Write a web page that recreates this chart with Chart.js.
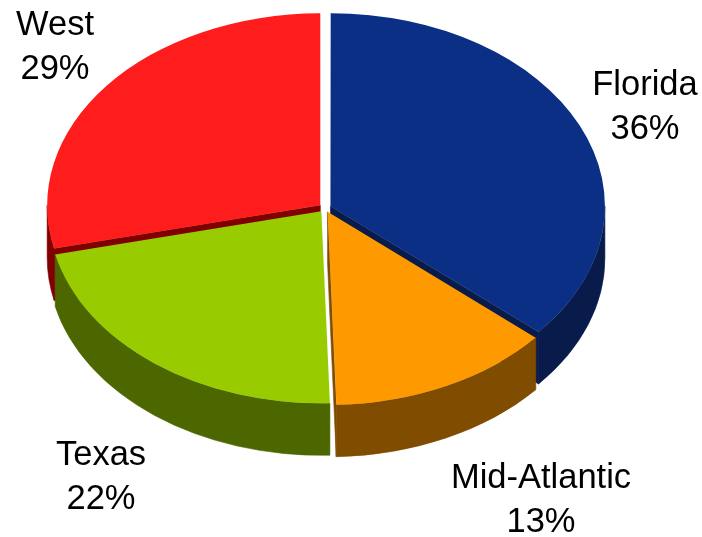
<!DOCTYPE html>
<html>
<head>
<meta charset="utf-8">
<title>Share by region</title>
<script src="https://cdn.jsdelivr.net/npm/chart.js@4.4.1/dist/chart.umd.min.js"></script>
<style>
  html, body { margin: 0; padding: 0; background: #fff; }
  #chart { display: block; }
</style>
</head>
<body>
<canvas id="chart" width="702" height="537"></canvas>
<script>
// data (labels show the rounded shares)
const regions = ['Florida', 'Mid-Atlantic', 'Texas', 'West'];
const shares = [36.3, 13.2, 21.9, 28.6];

const topColors = ['#0A2F85', '#FF9900', '#99CC00', '#FF1C1C'];
const sideColors = ['#081B4A', '#7F4C00', '#4C6600', '#800000'];

function sliceGeom(arc, tilt, color) {
    // same shift the arc element applies for its offset
    const off = (arc.options.offset || 0) / 4;
    const mid = (arc.startAngle + arc.endAngle) / 2;
    const circ = arc.endAngle - arc.startAngle;
    const fix = 1 - Math.sin(Math.min(Math.PI, circ));
    const r = arc.outerRadius + off * fix;
    return {
        x: arc.x + Math.cos(mid) * off,
        y: arc.y + Math.sin(mid) * off * tilt,
        rx: r,
        ry: r * tilt,
        start: arc.startAngle,
        end: arc.endAngle,
        color: color
    };
}

function cutFace(ctx, p, a, depth) {
    const ex = p.x + p.rx * Math.cos(a);
    const ey = p.y + p.ry * Math.sin(a);
    ctx.beginPath();
    ctx.moveTo(p.x, p.y);
    ctx.lineTo(ex, ey);
    ctx.lineTo(ex, ey + depth);
    ctx.lineTo(p.x, p.y + depth);
    ctx.closePath();
    ctx.fillStyle = p.color;
    ctx.strokeStyle = p.color;
    ctx.lineWidth = 0.6;
    ctx.fill();
    ctx.stroke();
}

function rimWall(ctx, p, depth) {
    // only the front half of the rim faces the viewer
    [-2 * Math.PI, 0, 2 * Math.PI].forEach(base => {
        const lo = Math.max(p.start, base);
        const hi = Math.min(p.end, base + Math.PI);
        if (hi <= lo) return;
        ctx.beginPath();
        ctx.ellipse(p.x, p.y, p.rx, p.ry, 0, lo, hi);
        ctx.lineTo(p.x + p.rx * Math.cos(hi), p.y + p.ry * Math.sin(hi) + depth);
        ctx.ellipse(p.x, p.y + depth, p.rx, p.ry, 0, hi, lo, true);
        ctx.closePath();
        ctx.fillStyle = p.color;
        ctx.strokeStyle = p.color;
        ctx.lineWidth = 0.6;
        ctx.fill();
        ctx.stroke();
    });
}

const pie3d = {
    id: 'pie3d',
    beforeDatasetsDraw(chart, args, opts) {
        const ctx = chart.ctx;
        const arcs = chart.getDatasetMeta(0).data;
        const parts = arcs.map((arc, i) => sliceGeom(arc, opts.tilt, opts.sideColors[i]));

        parts.forEach(p => {
            if (Math.cos(p.start) < 0) cutFace(ctx, p, p.start, opts.depth);
            if (Math.cos(p.end) > 0) cutFace(ctx, p, p.end, opts.depth);
        });
        parts.forEach(p => rimWall(ctx, p, opts.depth));

        // squash the pie tops into an ellipse
        const { x, y } = arcs[0];
        ctx.save();
        ctx.translate(x, y);
        ctx.scale(1, opts.tilt);
        ctx.translate(-x, -y);
    },
    afterDatasetsDraw(chart) {
        chart.ctx.restore();
    },
    afterDraw(chart, args, opts) {
        const ctx = chart.ctx;
        const data = chart.data.datasets[0].data;
        const total = data.reduce((s, v) => s + v, 0);
        ctx.save();
        ctx.font = opts.font;
        ctx.fillStyle = '#000';
        ctx.textAlign = 'center';
        ctx.textBaseline = 'alphabetic';
        chart.data.labels.forEach((name, i) => {
            const [lx, ly] = opts.labelAt[i];
            ctx.fillText(name, lx, ly);
            ctx.fillText(Math.round(data[i] / total * 100) + '%', lx, ly + opts.lineGap);
        });
        ctx.restore();
    }
};

new Chart(document.getElementById('chart'), {
    type: 'pie',
    data: {
        labels: regions,
        datasets: [{
            data: shares,
            backgroundColor: topColors,
            borderWidth: 0,
            offset: 24,
            clip: false
        }]
    },
    options: {
        responsive: false,
        animation: false,
        radius: 273,
        layout: { padding: { left: 0, right: 52, top: 0, bottom: 121 } },
        plugins: {
            legend: { display: false },
            tooltip: { enabled: false },
            pie3d: {
                tilt: 0.703,
                depth: 52,
                sideColors: sideColors,
                font: "34.5px 'Liberation Sans', Arial, sans-serif",
                lineGap: 44,
                labelAt: [[645, 95], [541, 488], [101, 465], [55, 35]]
            }
        }
    },
    plugins: [pie3d]
});
</script>
</body>
</html>
